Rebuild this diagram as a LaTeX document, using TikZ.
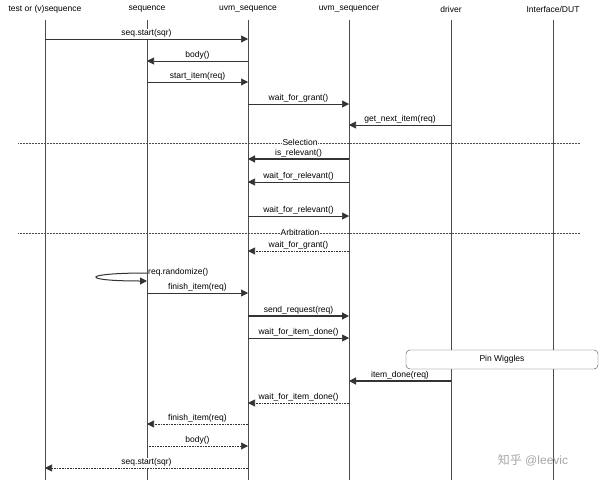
\documentclass[tikz,border=0pt]{standalone}
\usepackage{fontspec}
\setmainfont{Liberation Sans}
\newfontfamily\cjk{Noto Sans CJK SC}
\usetikzlibrary{arrows.meta}
\begin{document}
\begin{tikzpicture}[x=1pt,y=-1pt,
  hdr/.style={font=\fontsize{8.5}{10}\selectfont},
  life/.style={draw=black!70,line width=0.5pt},
  msg/.style={draw=black!80,line width=0.6pt,-{Triangle[length=7pt,width=7pt]}},
  rmsg/.style={msg,densely dotted},
  lbl/.style={font=\fontsize{8.5}{10}\selectfont,above,inner sep=1pt,fill=white},
  sep/.style={draw=black!70,densely dotted,line width=0.5pt}]
\useasboundingbox (0,0) rectangle (600,483);
\foreach \n/\x/\t in {A/45/{test or (v)sequence}, B/147/sequence, C/248/uvm\_sequence, D/349/uvm\_sequencer, E/451/driver, F/553/{Interface/DUT}}{
  \node[hdr] (\n) at (\x,9) {\t};
  \coordinate (\n top) at (\x,20);
  \coordinate (\n bot) at (\x,480);
  \draw[life] (\n top) -- (\n bot);
}
\draw[sep] (18,143) -- (580,143);
\node[hdr,fill=white,inner sep=1pt] (sel) at (300,142) {Selection};
\draw[sep] (18,233) -- (580,233);
\node[hdr,fill=white,inner sep=1pt] (arb) at (300,232) {Arbitration};
\newcommand\mymsg[5]{\draw[#1] (#2|-0,#4) -- node[lbl] {#5} (#3|-0,#4);}
\mymsg{msg}{A}{C}{39}{seq.start(sqr)}
\mymsg{msg}{C}{B}{61}{body()}
\mymsg{msg}{B}{C}{82}{start\_item(req)}
\mymsg{msg}{C}{D}{104}{wait\_for\_grant()}
\mymsg{msg}{E}{D}{125}{get\_next\_item(req)}
\mymsg{msg,line width=1.2pt}{D}{C}{159}{is\_relevant()}
\mymsg{msg}{D}{C}{182}{wait\_for\_relevant()}
\mymsg{msg}{C}{D}{216}{wait\_for\_relevant()}
\mymsg{rmsg}{D}{C}{251}{wait\_for\_grant()}
\draw[msg,line width=1pt] (B|-0,273) .. controls (80,273) and (80,281) .. (B|-0,281);
\node[hdr,anchor=west,inner sep=1pt] (rnd) at (147,272) {req.randomize()};
\mymsg{msg}{B}{C}{293}{finish\_item(req)}
\mymsg{msg,line width=1.2pt}{C}{D}{316}{send\_request(req)}
\mymsg{msg}{C}{D}{338}{wait\_for\_item\_done()}
\node[draw=black!70,rounded corners=4pt,minimum width=192pt,minimum height=19pt,hdr,fill=white] (pin) at (502,359.5) {Pin Wiggles};
\mymsg{msg,line width=1.2pt}{E}{D}{381}{item\_done(req)}
\mymsg{rmsg}{D}{C}{403}{wait\_for\_item\_done()}
\mymsg{rmsg}{C}{B}{424}{finish\_item(req)}
\mymsg{rmsg}{B}{C}{446}{body()}
\mymsg{rmsg}{C}{A}{468}{seq.start(sqr)}
\node[text=black!35,font=\fontsize{12}{14}\selectfont] (wm) at (533,460) {{\cjk 知乎} @leevic};
\end{tikzpicture}
\end{document}
